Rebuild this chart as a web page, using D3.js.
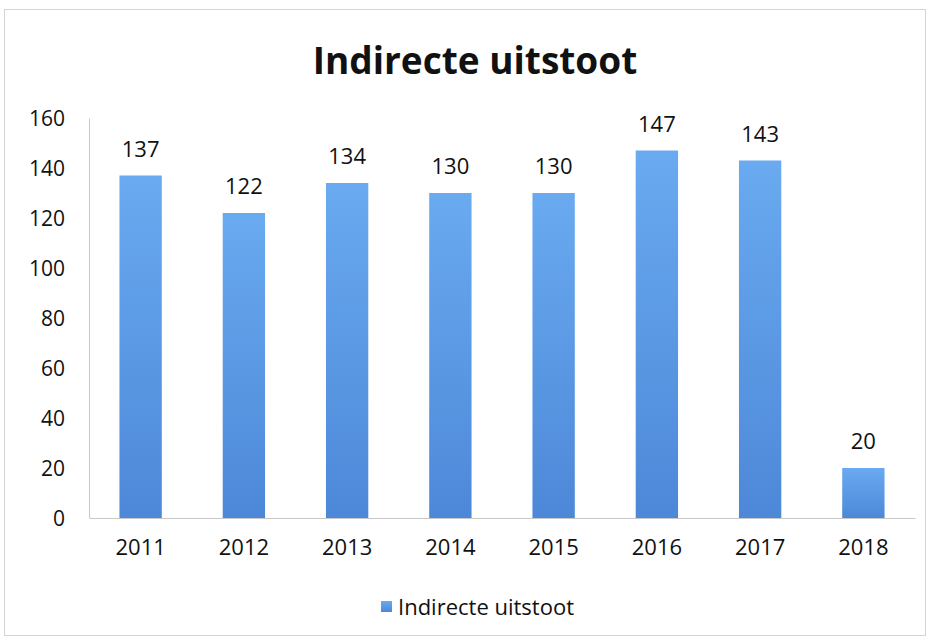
<!DOCTYPE html>
<html>
<head>
<meta charset="utf-8">
<script src="https://cdn.jsdelivr.net/npm/d3@7"></script>
<style>
  body { margin: 0; background: #fff; }
  text { font-family: 'Open Sans', 'Noto Sans', sans-serif; fill: #111; }
</style>
</head>
<body>
<div id="chart"></div>
<script>
// Data
const years = ['2011', '2012', '2013', '2014', '2015', '2016', '2017', '2018']
const values = [137, 122, 134, 130, 130, 147, 143, 20]
const yTicks = [0, 20, 40, 60, 80, 100, 120, 140, 160]
const seriesName = 'Indirecte uitstoot'

const w = 930
const h = 640

const svg = d3.select('#chart').append('svg')
  .attr('width', w)
  .attr('height', h)

// Gradient for bars
const defs = svg.append('defs')
const grad = defs.append('linearGradient')
  .attr('id', 'barGrad')
  .attr('x1', 0).attr('y1', 0).attr('x2', 0).attr('y2', 1)
grad.append('stop').attr('offset', '0%').attr('stop-color', '#69aaf0')
grad.append('stop').attr('offset', '100%').attr('stop-color', '#4d88d8')

// Outer frame
svg.append('rect')
  .attr('x', 4.5).attr('y', 9.5)
  .attr('width', 921).attr('height', 626)
  .attr('fill', 'none')
  .attr('stroke', '#d4d4d4')

// Title
svg.append('text')
  .attr('x', 475)
  .attr('y', 74)
  .attr('text-anchor', 'middle')
  .style('font-size', '37px')
  .style('font-weight', '700')
  .text('Indirecte uitstoot')

// Scales
const x = d3.scaleBand()
  .domain(years)
  .range([89, 915])
  .paddingInner(0.59)
  .paddingOuter(0.295)

const y = d3.scaleLinear()
  .domain([0, 160])
  .range([518, 118])

// Y axis
const yAxis = svg.append('g')
  .attr('transform', 'translate(89,0)')
  .call(d3.axisLeft(y).tickValues(yTicks).tickSize(0).tickPadding(24))
yAxis.select('.domain').attr('stroke', '#c8c8c8')
yAxis.selectAll('text')
  .style('font-size', '21px')
  .attr('dy', '0.35em')

// X axis
const xAxis = svg.append('g')
  .attr('transform', 'translate(0,518)')
  .call(d3.axisBottom(x).tickSize(0).tickPadding(21))
xAxis.select('.domain').attr('stroke', '#c8c8c8')
xAxis.selectAll('text')
  .style('font-size', '22px')

// Bars
svg.selectAll('rect.bar')
  .data(values)
  .enter()
  .append('rect')
  .attr('class', 'bar')
  .attr('x', (d, i) => x(years[i]))
  .attr('y', d => y(d))
  .attr('width', x.bandwidth())
  .attr('height', d => y(0) - y(d))
  .attr('fill', 'url(#barGrad)')

// Value labels
svg.selectAll('text.value')
  .data(values)
  .enter()
  .append('text')
  .attr('class', 'value')
  .attr('x', (d, i) => x(years[i]) + x.bandwidth() / 2)
  .attr('y', d => y(d) - 19)
  .attr('text-anchor', 'middle')
  .style('font-size', '22px')
  .text(d => d)

// Legend
const legend = svg.append('g').attr('transform', 'translate(381,601)')
legend.append('rect')
  .attr('width', 11).attr('height', 11)
  .attr('fill', 'url(#barGrad)')
legend.append('text')
  .attr('x', 17)
  .attr('y', 6)
  .attr('dy', '0.35em')
  .style('font-size', '22px')
  .text(seriesName)
</script>
</body>
</html>
